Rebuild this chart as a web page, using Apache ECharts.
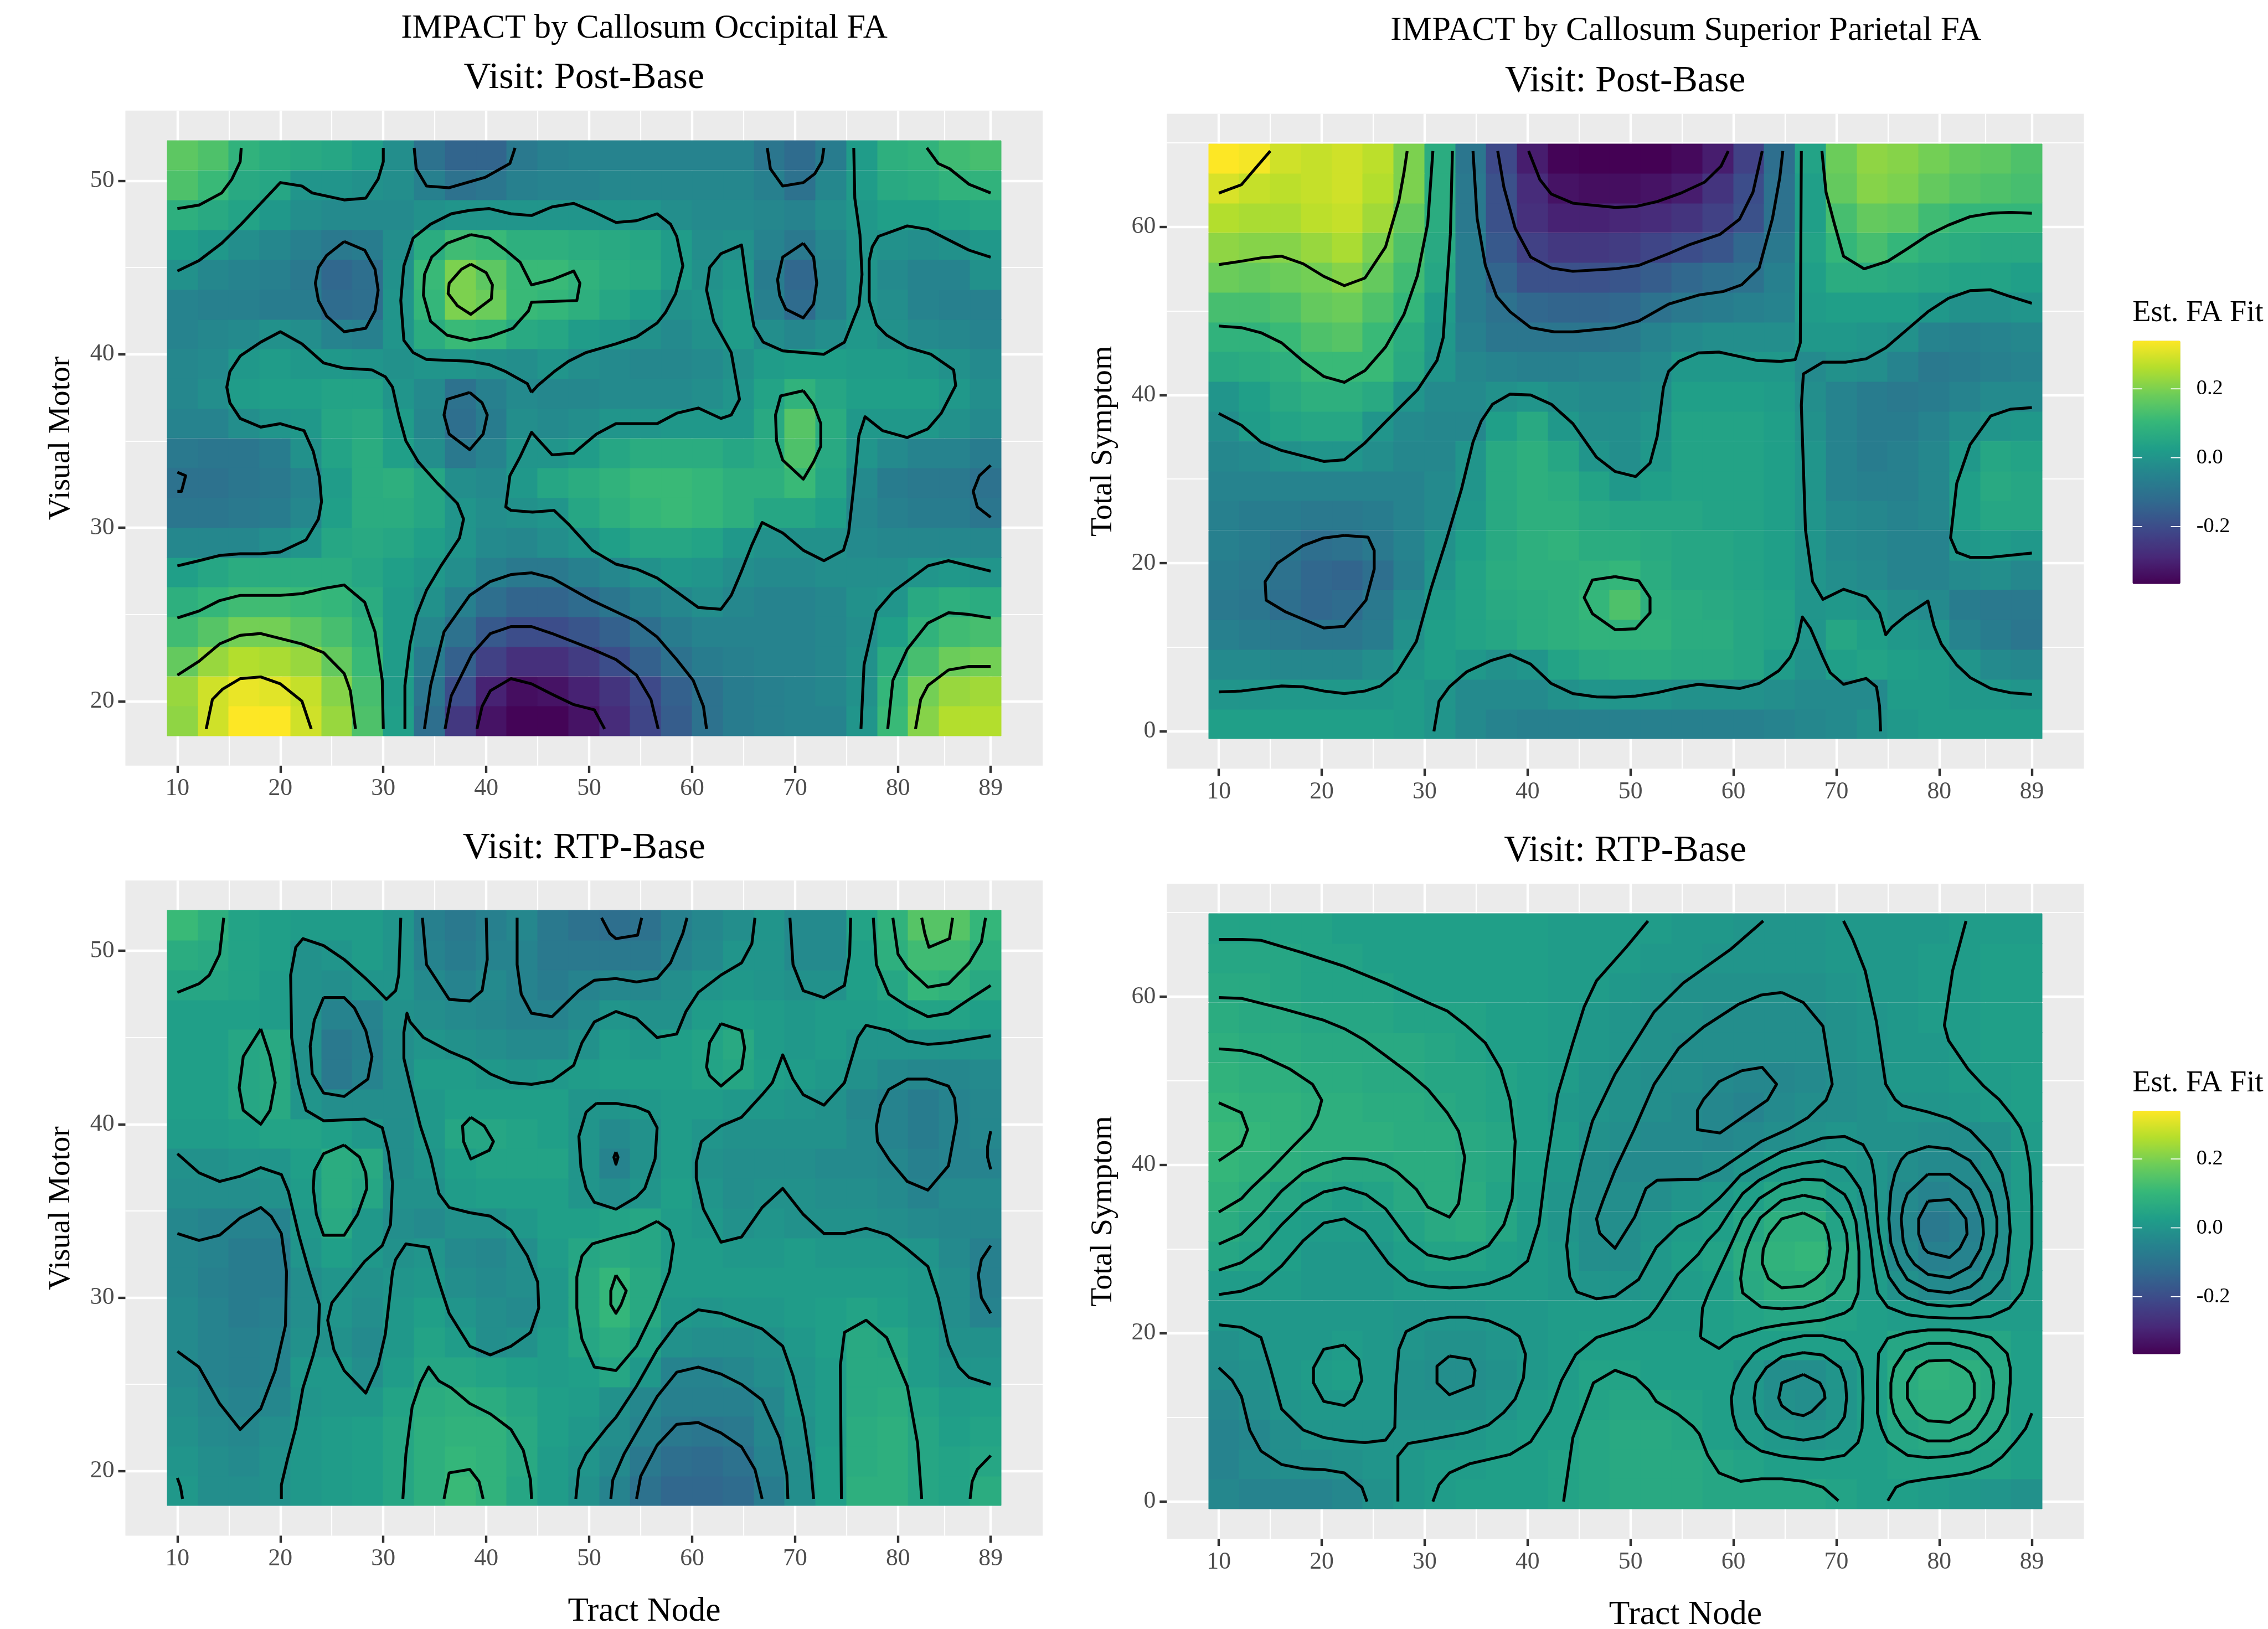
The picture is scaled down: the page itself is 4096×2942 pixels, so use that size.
<!DOCTYPE html>
<html><head><meta charset="utf-8"><style>html,body{margin:0;padding:0;background:#fff}#c{width:4096px;height:2942px}</style>
<script src="https://cdn.jsdelivr.net/npm/echarts@6/dist/echarts.min.js"></script></head><body><div id="c"></div>
<script>
const S=4096/4594;
const FONT='"Liberation Serif"';
const xNodes=[10.5,13.5,16.5,19.5,22.5,25.5,28.5,31.5,34.5,37.5,40.5,43.5,46.5,49.5,52.5,55.5,58.5,61.5,64.5,67.5,70.5,73.5,76.5,79.5,82.5,85.5,88.5];
const yNodesVisual=[18.86,20.57,22.29,24,25.72,27.44,29.15,30.87,32.59,34.3,36.02,37.74,39.45,41.17,42.88,44.6,46.32,48.03,49.75,51.47];
const yNodesSymptom=[0.885,4.43,7.97,11.5,15.05,18.6,22.1,25.7,29.2,32.7,36.3,39.8,43.4,46.9,50.4,54,57.5,61.1,64.6,68.1];
const xMajor=[10,20,30,40,50,60,70,80,89];
const xMinor=[15,25,35,45,55,65,75,84.5];
const yMajorVisual=[20,30,40,50],yMinorVisual=[25,35,45];
const yMajorSymptom=[0,20,40,60],yMinorSymptom=[10,30,50,70];
const legendTicks=[0.2,0,-0.2];
const legendLabels=['0.2','0.0','-0.2'];
const fitMin=-0.367,fitMax=0.34;
const viridis=['#440154','#482878','#3E4989','#31688E','#26828E','#1F9E89','#35B779','#6DCD59','#B4DE2C','#FDE725'];
// estimated fit in hundredths, rows bottom to top
const fitOccipitalPost=[
[22,29,34,34,29,23,14,3,-11,-25,-33,-36,-36,-33,-28,-22,-16,-10,-7,-6,-5,-5,0,11,21,26,26],
[23,29,32,31,28,21,13,2,-9,-20,-30,-34,-33,-30,-26,-21,-15,-10,-7,-6,-5,-4,-1,10,19,23,24],
[17,23,26,25,23,17,11,2,-7,-15,-23,-27,-27,-24,-20,-15,-10,-7,-6,-5,-5,-4,-1,7,13,18,19],
[12,15,19,19,16,13,9,2,-4,-10,-17,-20,-20,-18,-15,-11,-7,-5,-5,-5,-5,-4,-2,3,9,12,13],
[8,10,12,12,11,10,7,2,-1,-6,-11,-14,-14,-12,-9,-6,-4,-2,-4,-5,-5,-4,-1,0,6,8,7],
[3,5,7,7,7,7,5,3,1,-2,-6,-8,-8,-6,-4,-1,1,0,-2,-3,-3,-2,-2,-2,0,1,0],
[-4,-4,-4,-2,0,5,6,5,3,0,-3,-4,-2,0,3,5,5,4,1,-1,-1,-1,-3,-4,-4,-4,-4],
[-9,-9,-8,-7,-4,3,7,7,5,0,-2,-1,0,5,8,10,11,10,8,5,5,3,-4,-6,-7,-7,-9],
[-10,-10,-9,-8,-5,2,7,8,5,-2,-3,1,5,7,9,11,11,10,8,8,11,5,-3,-7,-8,-8,-10],
[-8,-9,-9,-7,-1,4,7,3,-2,-8,-5,0,0,2,5,7,7,7,5,7,14,6,0,-3,-5,-5,-7],
[-5,-5,-2,0,1,5,6,2,-4,-11,-7,-2,-3,-2,0,0,1,1,1,6,15,7,1,1,1,-1,-3],
[-4,-2,2,3,3,4,4,0,-3,-10,-6,-3,-4,-4,-3,-3,-3,-2,0,4,9,5,3,3,3,1,-2],
[-4,-3,1,2,1,1,0,-1,0,0,-1,-2,0,-2,-3,-4,-4,-3,-1,2,3,3,2,2,1,-1,-3],
[-5,-4,-3,-1,-2,-5,-6,0,7,11,10,6,5,2,1,-1,-3,-1,2,-2,-4,-2,1,-1,-3,-4,-5],
[-5,-6,-6,-7,-7,-12,-11,0,10,20,18,11,10,8,5,3,-1,0,2,-6,-12,-5,0,-2,-5,-6,-6],
[-1,-4,-5,-6,-8,-13,-11,-1,11,20,16,11,11,9,7,6,2,-1,1,-7,-13,-5,0,-3,-5,-5,-1],
[3,1,-2,-4,-6,-8,-7,-2,7,12,11,8,8,7,6,5,2,-2,-1,-5,-8,-4,0,-1,-2,-1,1],
[8,6,4,1,-2,-3,-3,-3,-1,0,0,0,0,0,0,0,-2,-3,-3,-4,-5,-2,1,3,3,4,5],
[14,11,6,5,0,0,-1,-2,-6,-10,-9,-6,-5,-5,-4,-4,-4,-4,-4,-6,-10,-4,2,6,7,9,9],
[16,14,9,7,6,5,3,-2,-10,-14,-14,-8,-6,-5,-5,-5,-5,-5,-5,-9,-12,-7,2,8,9,12,13]];
const fitParietalPost=[
[3,3,3,3,3,3,2,0,-3,-5,-6,-6,-6,-6,-6,-6,-6,-6,-5,-4,-3,-1,1,2,2,2,2],
[0,0,1,1,1,1,2,0,-3,-3,-3,-1,0,0,0,-1,-1,-1,-2,-3,-3,-3,2,2,1,1,0],
[-3,-3,-4,-4,-4,-2,1,3,1,-1,0,4,6,7,7,6,6,5,2,-1,3,4,3,2,0,-3,-4],
[-6,-7,-8,-9,-9,-7,-1,3,4,5,7,8,9,9,9,7,7,5,4,0,5,3,1,0,-5,-7,-9],
[-8,-9,-11,-13,-12,-8,-3,2,4,6,7,8,10,14,8,7,6,5,4,0,1,0,-2,-3,-7,-8,-8],
[-7,-8,-10,-13,-14,-11,-6,0,4,7,8,8,9,10,7,5,5,4,3,0,-2,-3,-5,-5,-3,-2,-4],
[-6,-7,-9,-11,-10,-8,-5,-1,3,6,8,9,7,7,6,5,5,4,3,0,-3,-4,-5,-5,1,2,1],
[-6,-7,-7,-8,-8,-7,-5,-3,1,6,8,8,6,5,5,5,4,4,3,0,-3,-4,-5,-4,3,5,5],
[-5,-5,-5,-5,-5,-5,-5,-3,0,6,8,7,4,1,3,4,4,4,3,0,-5,-6,-6,-4,3,6,5],
[-4,-3,-1,0,0,-2,-4,-4,0,6,8,5,0,-2,1,4,4,4,3,0,-5,-7,-6,-4,1,5,4],
[-2,2,4,5,5,0,-3,-4,-4,3,6,1,-2,-2,0,4,4,4,3,-1,-5,-7,-7,-5,-2,0,1],
[0,3,6,8,8,6,0,-3,-3,-1,0,-2,-3,-3,-2,3,3,3,2,-2,-5,-7,-8,-7,-5,-3,-3],
[6,7,8,11,11,11,6,0,-4,-5,-6,-6,-5,-5,-3,1,1,1,1,-3,-1,-2,-5,-8,-7,-6,-5],
[9,9,11,14,15,11,7,1,-6,-9,-9,-9,-9,-8,-5,-3,-2,-2,-2,1,1,0,-1,-5,-6,-5,-4],
[13,13,14,17,18,14,10,2,-7,-10,-13,-14,-14,-13,-10,-8,-7,-6,-5,2,3,3,3,1,-1,-1,0],
[18,17,18,19,21,17,12,5,-7,-14,-19,-19,-19,-18,-16,-13,-11,-10,-6,3,7,7,6,5,4,4,3],
[22,21,21,23,25,20,14,6,-7,-17,-23,-25,-25,-24,-22,-20,-18,-13,-8,4,10,13,10,8,7,6,6],
[26,25,25,27,28,24,17,7,-8,-19,-27,-30,-30,-29,-28,-26,-23,-19,-10,3,13,17,16,12,10,10,10],
[30,28,27,28,29,26,20,7,-8,-19,-28,-33,-34,-34,-33,-31,-26,-20,-10,3,17,21,20,17,15,14,13],
[34,33,29,28,29,27,20,7,-9,-21,-31,-36,-37,-37,-37,-35,-31,-23,-11,4,18,22,21,19,17,16,14]];
const fitOccipitalRtp=[
[1,-2,-2,-1,1,2,3,5,8,11,9,5,2,-1,-5,-10,-13,-13,-12,-7,-2,3,8,8,5,4,7],
[0,-2,-3,-1,1,2,3,5,8,10,9,6,2,0,-3,-8,-11,-12,-10,-5,-2,3,7,8,5,4,5],
[-1,-3,-4,-2,1,2,3,5,8,9,9,6,3,1,-2,-5,-8,-9,-8,-4,-1,2,7,8,5,3,4],
[-2,-4,-5,-4,0,1,1,4,7,8,7,5,3,2,-1,-4,-6,-6,-6,-4,0,2,6,7,4,2,3],
[-3,-5,-6,-5,1,1,-2,2,5,5,4,3,2,3,5,1,-5,-5,-4,-2,0,2,6,6,2,0,0],
[-3,-5,-6,-5,-1,-1,-3,1,4,2,-2,-1,2,5,7,4,-1,-2,-2,-1,1,3,6,5,2,-1,-1],
[-3,-5,-7,-6,-2,0,-2,1,3,0,-2,-3,1,6,10,6,1,0,1,1,2,3,4,3,1,-2,-5],
[-4,-6,-7,-7,-2,0,-1,0,1,-2,-3,-2,1,6,10,6,2,2,2,2,2,2,2,2,1,-2,-6],
[-4,-5,-7,-7,0,3,1,-1,0,-3,-4,-2,2,5,6,5,2,2,1,1,2,1,1,1,0,-3,-6],
[-4,-5,-5,-5,1,6,1,-2,-3,-1,-1,1,3,3,4,5,2,1,-1,0,-1,-1,-1,-2,-3,-4,-4],
[-2,-2,-2,-1,2,7,5,-1,-1,2,3,3,3,0,-2,0,3,0,-2,-1,-1,-2,-2,-3,-5,-3,-3],
[-1,-1,0,0,3,7,6,-2,0,3,4,4,4,0,-5,-1,2,-1,-2,-2,-2,-3,-3,-4,-6,-5,-5],
[2,2,3,4,4,3,1,-2,1,5,5,4,3,0,-3,-1,2,0,-1,-1,-1,-1,-3,-5,-7,-5,-4],
[3,3,5,6,0,-2,-2,-2,1,3,3,3,3,0,0,1,2,2,1,1,0,-1,-4,-5,-7,-5,-4],
[3,3,5,6,-1,-8,-5,-2,2,2,1,0,1,2,3,3,3,4,5,3,2,1,-1,-3,-4,-4,-3],
[3,3,5,6,-1,-8,-6,-2,0,-1,-2,-3,-3,-1,2,1,3,4,6,2,1,2,0,0,0,0,0],
[3,3,3,2,-1,-5,-5,-1,-2,-3,-4,-5,-5,-3,0,-1,-1,2,3,2,1,2,2,3,4,4,3],
[5,5,4,2,-1,-2,0,0,-3,-5,-3,-5,-7,-5,-4,-4,-2,0,1,0,-1,-1,3,5,10,9,6],
[7,6,4,3,-1,0,2,0,-5,-7,-5,-5,-8,-8,-8,-8,-5,-3,0,0,-3,-3,3,8,12,12,8],
[11,8,4,3,2,2,2,0,-6,-8,-6,-4,-8,-10,-11,-10,-6,-4,-2,0,-3,-3,4,9,15,15,10]];
const fitParietalRtp=[
[-4,-5,-5,-5,-4,-1,1,2,3,3,3,4,5,6,6,6,5,5,5,5,4,3,3,2,1,0,-1],
[-5,-3,-2,-2,-1,0,1,2,2,3,3,4,5,6,6,6,5,4,3,3,3,3,4,4,4,4,3],
[-5,-4,-2,0,0,0,0,0,1,2,3,3,5,6,6,5,3,2,1,0,1,3,5,6,6,5,3],
[-4,-2,0,1,1,1,-1,-1,-1,0,2,3,4,5,5,4,3,1,-1,-2,0,3,7,8,8,6,3],
[-2,-1,1,2,3,1,-1,-2,-2,-1,1,2,4,4,3,3,3,1,-2,-2,0,3,7,9,8,6,3],
[-1,0,1,1,2,1,0,-1,-1,0,1,2,3,3,3,3,3,3,3,3,3,3,5,5,5,5,3],
[1,1,1,1,1,1,0,0,0,1,1,2,2,2,2,2,3,4,5,5,4,3,2,2,2,2,2],
[2,2,2,1,1,1,2,2,2,2,2,1,0,0,1,2,3,6,8,8,6,2,-1,-3,-3,-1,2],
[5,4,3,1,1,1,3,4,4,3,2,1,-2,-2,1,3,4,7,9,10,6,2,-3,-6,-5,-2,2],
[7,5,3,2,2,2,4,6,7,5,2,0,-2,-2,0,2,3,5,8,8,4,1,-4,-8,-6,-2,2],
[9,7,5,4,3,4,6,7,7,4,2,0,-2,-2,-2,0,1,3,5,5,2,0,-3,-5,-4,-2,2],
[10,9,8,7,6,6,7,7,6,5,3,1,-2,-3,-3,-3,-2,0,2,2,1,0,-2,-3,-3,-1,2],
[11,10,9,8,8,8,7,7,6,5,3,2,-1,-2,-3,-3,-4,-3,-2,-1,0,-1,-1,-2,-2,-1,2],
[10,9,9,8,8,7,7,6,5,4,3,1,0,-1,-2,-3,-4,-5,-3,-2,-2,-1,0,0,1,2,3],
[9,8,8,7,7,6,6,5,5,4,3,2,0,-1,-2,-2,-3,-4,-4,-3,-2,-1,1,1,2,2,3],
[8,7,7,6,6,6,6,5,4,3,3,2,1,0,-1,-2,-2,-2,-2,-2,-1,0,1,1,2,3,3],
[7,6,6,5,5,5,4,4,4,3,3,2,1,0,-1,-1,-2,-2,-2,-2,-1,0,1,2,2,3,3],
[6,6,5,4,4,4,3,3,3,3,3,2,2,1,0,-1,-1,-1,-1,-1,0,1,1,2,2,3,3],
[5,5,5,4,4,3,3,3,3,3,3,2,2,2,1,1,0,0,0,0,1,1,1,2,2,3,3],
[4,4,4,4,3,3,3,3,3,3,3,2,2,2,2,1,1,0,0,0,1,1,1,1,2,2,2]];
// contour paths: flat x,y lists in data units
const contoursOccipitalPost=[
[10,48.4,12.1,48.6,14.3,49.3,15.3,50.1,16.1,51.1,16.2,51.9],
[10,44.8,12.1,45.4,14.3,46.4,16.2,47.5,18.1,48.7,20,49.9,22.1,49.7,23.1,49.3,26.2,48.9,28.3,49,29.5,50.1,30,51.1,30,51.9],
[33,51.9,33.2,50.7,34.2,49.7,36.4,49.6,39.9,50.2,42.3,51,42.8,51.9],
[67.3,51.9,67.6,50.7,68.8,49.7,70.8,49.9,71.9,50.4,72.6,51.1,72.8,51.9],
[75.7,51.9,75.8,49,76.3,46.9,76.5,44.6,76.2,42.8,74.8,40.7,72.8,40,68.8,40.2,66.9,40.7,66,41.6,65.4,43.7,64.8,46.3,62.8,45.8,61.7,45,61.4,43.7,62.1,41.9,63.8,40.1,64.6,37.4,63.8,36.5,62.8,36.3,60.6,36.9,58.5,36.6,56.6,36,52.6,36,50.7,35.4,48.5,34.3,46.4,34.2,44.4,35.5,43.3,34.1,42.3,33,41.9,31.2,42.4,31,44.5,30.9,46.6,31,48,30.2,50.3,28.7,52.6,27.9,54.7,27.6,56.6,27.1,58.5,26.3,60.6,25.4,62.8,25.3,63.8,26.1,64.8,27.5,65.8,29,66.8,30.3,68.8,29.7,70.8,28.7,72.8,28.1,74.7,28.7,75.2,29.7,75.8,32.9,76.2,35.3,76.8,36.4,78.5,35.6,80.9,35.2,82.9,35.7,84.2,36.6,85.6,38.2,85.4,39.1,83.2,40,80.9,40.4,78.9,41.1,77.9,41.7,77.2,43.1,77.2,45.4,77.5,46.2,78.1,46.8,80.9,47.4,82.9,47.2,84.9,46.6,86.9,46,89,45.6],
[44.4,37.8,44,38.3,41.9,39,40.3,39.4,38.4,39.6,34.2,39.7,32.9,40.1,32,40.8,31.7,43.1,32,45.1,32.9,46.7,34.6,47.5,36.6,48.1,38.4,48.3,40.3,48.4,42.4,48.1,44.4,48,46.4,48.5,48.5,48.7,50.5,48.2,52.6,47.6,54.6,47.7,56.6,48.1,57.9,47.5,58.5,46.8,59.1,45.1,58.4,43.5,57.4,42.4,56.6,41.8,54.6,41,52.6,40.6,49.7,40.1,48,39.6,46.6,39,45,38.2,44.4,37.8],
[38.5,46.9,40.3,46.7,41.9,46,43.3,45.3,44.4,44,46.4,44.3,48.5,44.8,49.1,44.1,48.8,43.1,44.4,43,44.1,42.5,42.6,41.5,40.3,41,38.4,40.8,36.2,41.1,34.6,41.9,33.9,43.4,34,44.6,34.7,45.6,36.2,46.4,38.5,46.9],
[38.5,45.2,40,44.7,40.6,44,40.5,43.2,38.5,42.3,37.2,42.8,36.3,43.5,36.4,44.1,37.6,44.9,38.5,45.2],
[26.2,46.5,28.2,46,29.2,44.9,29.5,43.7,29.2,42.5,28.3,41.5,26.2,41.3,24.5,42.2,23.7,43.1,23.4,44.1,23.7,45,24.5,45.7,26.2,46.5],
[70.8,46.4,71.8,45.6,72.1,44.1,71.8,42.9,70.8,42.1,69.1,42.6,68.5,43.4,68.3,44.3,68.8,45.6,70.8,46.4],
[10,27.8,12.1,28.1,14.1,28.4,16.1,28.5,18.1,28.5,20,28.6,22.5,29.3,23.7,30.5,24,31.5,23.8,32.9,23.2,34.4,22.3,35.6,20,36,18.1,35.8,16.1,36.3,15.1,37.2,14.8,38.1,15.1,39,16.1,39.9,18.1,40.7,20,41.3,22.1,40.6,24.2,39.5,26.2,39.2,28.9,39.1,30.2,38.7,30.9,38.1,31.5,36.5,32.2,35,33.4,33.8,35.2,32.6,37.2,31.4,37.8,30.5,37.4,29.4,35.6,27.8,34.2,26.4,33.2,24.9,32.6,23.3,32.1,20.9,32.1,18.4],
[10,33.2,10.8,33,10.4,32.1,10,32.1],
[38.4,37.8,39.6,37.2,40.1,36.5,39.7,35.4,38.4,34.5,36.4,35.4,35.9,36.5,36.2,37.4,38.4,37.8],
[70.8,37.9,71.8,37.1,72.5,36,72.5,34.7,71.8,33.8,70.8,32.8,68.8,33.9,68.2,35,68.1,36.5,68.6,37.6,70.8,37.9],
[89,33.6,87.9,33,87.3,32.1,87.7,31.2,89,30.6],
[82.8,51.9,83.9,51,85,50.7,86.9,49.8,89,49.3],
[10,24.8,12.1,25.2,14.1,25.8,16.1,26.1,20,26.1,22.1,26.2,24.2,26.5,26.2,26.7,28.2,25.7,29.2,24,29.9,21.2,30,18.4],
[10,21.5,12.1,22.3,14.1,23.3,16.1,23.8,18.1,23.9,22.1,23.3,24.2,22.8,26.2,21.6,26.8,20.6,27.3,18.4],
[12.8,18.4,13.4,20.1,14.4,20.7,16.1,21.3,18.1,21.4,20,21,22.1,20,23,18.4],
[34,18.4,34.6,20.9,35.9,24,38.4,26.1,40.4,26.9,42.4,27.3,44.4,27.4,46.4,27.1,50.3,25.8,54.6,24.6,56.6,23.7,58.5,22.4,60.1,21.2,61.1,19.7,61.4,18.4],
[36,18.4,36.6,20.3,38.6,22.7,40.4,23.9,42.4,24.3,44.4,24.3,46.4,23.9,50.3,23,52.6,22.4,54.6,21.5,56,20.1,56.7,18.4],
[39.1,18.4,39.6,19.7,40.4,20.6,42.4,21.3,44.4,21,46.4,20.4,48.5,19.8,50.5,19.5,51.5,18.4],
[76.4,18.4,76.7,22.1,77.9,25.2,79.5,26.3,82.9,27.8,84.9,28.1,89,27.5],
[79,18.4,79.5,21.2,80.9,23,82.9,24.5,84.9,25.1,86.9,25,89,24.8],
[81.7,18.4,82.2,20.1,82.9,20.9,84.9,21.8,86.9,22,89,22]];
const contoursParietalPost=[
[10,64,12.2,65,13.1,66.3,15,69],
[10,55.5,12.2,55.9,14.1,56.3,16.1,56.5,18.2,55.6,20.2,54.1,22.2,53,24.2,53.9,26.2,57.6,27.5,63.1,28,66.5,28.3,69],
[10,48.2,12.2,48,14.1,47.4,16.1,46.2,18.2,44,20.2,42.2,22.2,41.5,24.2,42.9,26.2,45.7,28,49.6,29.3,54.2,30.3,60.4,30.8,69],
[10,37.8,12.2,36.4,14.1,34.4,16.1,33.4,20.2,32.1,22.2,32.3,24.2,34.3,26.2,36.8,29.3,40.6,31.2,44.1,31.8,46.8,32.5,59.1,32.7,69],
[34.7,69,35.1,61,35.9,55.4,37,51.7,38.3,49.9,40.3,48,42.6,47.5,44.4,47.5,48.5,48,50.8,48.8,53.7,50.8,56.7,51.9,59,52.3,60.8,53.1,62.5,55.1,63.8,61,64.5,65.8,64.8,69],
[37.1,69,37.7,64.7,38.8,59.8,40.3,56.4,42.3,55.1,44.4,54.7,48.5,55,50.8,55.4,53.7,56.8,55.8,57.9,58.7,59.1,60.6,60.9,61.9,64.1,62.8,69],
[40.1,69,41.2,65.6,42.3,63.9,44.4,62.8,48.5,62.3,50.5,62.4,52.6,63,54.9,64,57.2,65.3,58.8,67.2,59.5,69],
[66.6,69,66.5,46.2,66,44.2,64.6,44,62.3,44.1,60.5,44.6,58.6,45.1,56.6,45,54.7,44,53.7,42.8,53.2,40.9,52.6,35.1,51.9,31.9,50.5,30.3,48.5,30.9,46.7,32.6,44.4,36.6,42.3,38.9,40.3,40,38.3,40.1,36.6,38.9,35.5,36.9,34.7,34.4,33.6,28.9,32.1,22.7,30.6,16.9,29.2,10.7,27.3,7,25.7,5.4,24.2,4.8,22.2,4.5,20.2,4.8,18.2,5.3,16.1,5.4,14.1,5.1,12.2,4.8,10,4.7],
[68.6,69,69,64.1,69.8,60.4,70.7,56.5,72.7,55,75,55.9,76.8,57.3,78.9,59,80.9,60.2,83,61.2,85,61.6,86.9,61.7,89,61.6],
[89,50.9,86.9,51.7,85,52.5,83,52.4,80.9,51.5,78.9,49.9,76.8,47.7,74.8,45.6,72.9,44.3,70.9,43.9,68.7,43.9,66.8,42.5,66.6,38.8,66.8,31.4,67,24,67.7,17.8,68.7,15.7,70.7,16.9,72.9,16,74.2,14.1,74.8,11.5,75.4,12.4,76.8,13.8,78.9,15.5,79.5,12.5,80.2,10.4,81.7,7.9,83,6.4,85,5.1,86.9,4.6,89,4.4],
[89,38.5,86.9,38.3,85,37.5,83,34.1,81.7,29.5,81.1,23,81.7,21.3,83,20.7,85,20.7,89,21.2],
[22.2,23.3,24.5,23.1,25.1,21.5,25.1,19.3,24.3,15.6,22.2,12.5,20.2,12.3,16.5,14.2,14.6,15.6,14.5,17.8,15.7,20,18.2,22.1,20.2,23,22.2,23.3],
[48.5,18.4,50.8,17.9,51.9,15.9,51.9,14.1,50.5,12.2,48.5,12.1,46.3,14,45.5,15.9,46.3,18,48.5,18.4],
[30.9,0,31.4,3.6,32.4,5.3,34.1,7.1,36.4,8.4,38.3,9.1,40.3,8,42.3,5.7,44.4,4.5,46.7,4.1,48.5,4.07,50.5,4.2,52.6,4.6,54.7,5.2,56.6,5.6,60.6,5.1,62.5,5.7,64.4,7.2,65.5,8.8,66.2,10.7,66.7,13.6,67.5,12.2,68.7,8.8,69.4,7,70.7,5.6,72.9,6.3,73.9,5.3,74.2,3,74.3,0]];
const contoursOccipitalRtp=[
[10,47.6,12.1,48.1,13.1,48.6,14.1,49.8,14.5,51.9],
[31.7,51.9,31.5,48.6,31.2,47.7,30.3,47.2,29.5,47.7,28.3,48.4,26.2,49.5,24.2,50.3,22.2,50.7,21.5,50.2,21,48.6,21.1,45,21.8,42.3,22.5,40.8,24.2,40.2,28.2,40.3,29.9,39.8,30.5,38.4,30.9,36.6,30.7,34.2,29.9,33,28.2,32.1,26.2,30.6,25,29.7,24.6,28.7,25.2,27,26.2,25.8,28.3,24.5,29.5,26.1,30.2,27.9,30.9,31.5,31.2,32.2,32.2,33.1,34.4,32.9,35.4,30.9,36.4,29.1,38.4,27.2,40.4,26.7,42.4,27.2,44.3,28,45.1,29.4,45,30.9,44,32.4,42.4,33.9,40.4,34.7,38.4,34.9,36.4,35.2,35.4,36,34.6,38.1,33.6,39.9,32.6,42.3,32,43.8,32,45.3,32.3,46.4,32.6,45.9,33.9,45,36.4,44.2,38.4,43.7,40.4,42.9,42.4,42.4,44.4,42.3,46.4,42.5,48.5,43.4,49.3,44.7,50.5,45.9,52.6,46.5,54.6,46.1,56.6,45,58.5,45.2,59.4,46.5,60.6,47.6,62.8,48.6,64.8,49.3,65.8,50.4,66.1,51.9],
[33.8,51.9,34.2,49.2,36.4,47.2,38.4,47.1,39.6,47.7,40.1,49.5,40,51.9],
[43,51.9,43,49.2,43.4,47.5,44.4,46.4,46.4,46.2,49,47.7,50.5,48.3,52.6,48.4,54.6,48.2,56.6,48.4,57.9,49.3,59.1,51,59.5,51.9],
[51.2,51.9,52,51,52.6,50.7,54.7,50.9,55.1,51.9],
[69.5,51.9,69.8,49.2,70.8,47.7,72.8,47.3,74.8,48,75.3,49.8,75.4,51.9],
[77.6,51.9,77.9,49.2,79.1,47.5,80.9,46.8,82.9,46.2,84.9,46.4,86.9,47.2,89,48],
[79.5,51.9,80,49.8,80.9,49,82.9,47.9,84.9,48.1,86.9,49.3,88.1,50.5,88.5,51.9],
[82.3,51.9,82.6,51,83,50.2,85,50.7,85.3,51.9],
[24.2,47.3,26.2,47.3,27.2,46.7,28.3,45.4,28.9,43.9,28.5,42.6,26.2,41.6,24.2,41.8,23.1,42.9,22.9,44.5,23.3,46,24.2,47.3],
[18.1,45.5,19,43.9,19.5,42.4,19,40.8,18.1,40,16.4,40.8,16,42.1,16.4,43.9,18.1,45.5],
[38.5,40.4,39.8,39.9,40.7,39,40.3,38.5,38.5,38,37.8,39,37.7,39.9,38.5,40.4],
[50.7,41.2,52.6,41.2,54.6,41,55.8,40.7,56.6,39.8,56.4,38,55.4,36.3,54.6,35.8,52.6,35.1,50.5,35.5,49.7,36.3,49.2,37.5,49,39.3,49.7,40.7,50.7,41.2],
[52.6,38.4,52.8,38.1,52.6,37.7,52.4,38.1,52.6,38.4],
[62.8,45.8,64.8,45.4,65.1,44.4,64.8,43.2,62.8,42.2,61.7,42.8,61.4,43.3,61.7,44.7,62.8,45.8],
[82.9,42.6,84.9,42.2,85.5,41.5,85.7,40.2,84.9,37.6,82.9,36.2,80.9,36.7,79.2,37.9,78,39,77.9,39.9,78.3,41.1,79.1,42,80.9,42.6,82.9,42.6],
[89,39.6,88.7,38.7,88.7,38.1,89,37.4],
[10,38.3,12.1,37.2,14.1,36.7,16.1,37,18.1,37.5,20.1,37.1,20.8,36.1,21.8,33.6,22.8,31.5,23.8,29.6,23.7,27.9,23.2,26.7,22.2,24.8,21.5,22.5,20.7,20.7,20.1,19.2,20.1,18.4],
[26.2,38.8,27.7,38.1,28.3,37.2,28.4,36.3,27.5,34.8,26.2,33.6,24.2,33.6,23.5,34.8,23.2,36.3,23.3,37.3,24.2,38.3,26.2,38.8],
[10,33.7,12.1,33.3,14.1,33.6,16.1,34.6,18.1,35.2,19.1,34.7,20.1,33.7,20.6,31.5,20.5,28.4,19.5,25.8,18.1,23.6,16.1,22.4,14.1,23.9,12.1,26,10,26.9],
[10,19.6,10.3,19.1,10.5,18.4],
[89,45.1,86.9,44.9,84.9,44.7,82.9,44.6,80.9,44.8,79.1,45.4,76.9,45.7,76.1,45,74.8,42.4,72.8,41.1,70.8,41.7,69.8,42.6,68.8,44,67.8,42.4,66.8,41.7,64.8,40.4,62.8,39.9,60.9,39,60.4,37.8,60.4,36.9,61.1,35.1,62.8,33.2,64.8,33.5,66.8,35.2,68.8,36.3,70.8,34.8,72.8,33.7,74.8,33.7,76.9,34,79.1,33.6,80.9,32.8,82.9,31.8,83.9,30,84.9,27.3,85.9,26,86.9,25.4,89,25],
[56.6,34.4,57.8,33.9,58.2,33.1,57.8,31.5,56.4,29.4,54.6,27.2,52.6,25.8,50.5,26,49.3,27.6,48.8,29.4,48.8,31.2,49.3,32.4,50.3,33.1,52.6,33.5,54.6,33.8,56.6,34.4],
[52.6,31.3,53.6,30.4,53.1,29.6,52.6,29.1,52.1,29.6,52.1,30.4,52.6,31.3],
[89,33,88.1,32.2,87.8,31.3,88.1,30,89,29.1],
[31.9,18.4,32.2,21,32.8,23.7,33.6,25.1,34.4,26,35.4,25.2,36.6,24.8,38.4,23.9,40.4,23.3,42.4,22.4,43.6,21.2,44.3,19.5,44.4,18.4],
[35.9,18.4,36.4,19.9,38.4,20.1,39.3,19.4,39.7,18.4],
[48.7,18.4,49,20.1,49.7,21,51.7,22.5,52.6,23.1,54.6,24.9,56.6,27,58.5,28.5,60.6,29.3,62.8,29.1,66.8,28.2,68.8,27.2,69.8,25.5,70.8,23.1,71.5,20.4,71.8,18.4],
[52.1,18.4,52.3,19.5,53.4,21,56.6,24.3,58.5,25.7,60.6,26,62.8,25.6,64.8,25,66.8,24.1,68.5,21.9,69.2,19.8,69.3,18.4],
[54.6,18.4,55,19.7,56.6,21.5,58.5,22.7,60.6,22.8,62.8,22.2,64.8,21.4,66.1,20.1,66.8,18.4],
[74.5,18.4,74.4,26.1,74.8,28,76.9,28.7,78.9,27.7,80.9,24.9,81.9,21.6,82.3,18.4],
[87,18.4,87.2,19.4,87.7,20.1,89,20.9]];
const contoursParietalRtp=[
[10,66.8,12.2,66.8,14.1,66.7,18.2,65.2,22.2,63.6,26.2,61.6,30.3,59.3,32.2,58.3,34.1,56.5,35.9,54.5,37.4,51.4,38.3,47.7,38.8,42.8,38.5,36,37.7,32.9,36.2,30.4,34.1,29.2,32.4,28.8,30.3,29.3,28.5,31,26.2,34.8,24.3,36.5,22.2,37.3,20.2,36.8,18.2,35.4,16.1,32.9,14.1,30.1,12.2,28.4,10,27.5],
[10,59.9,12.2,59.8,16.1,58.6,20.2,57.2,22.2,56.2,24.2,54.8,26.2,53,28.5,50.9,30.3,49,32.2,46.2,33.3,44,33.9,40.9,33.3,35.4,32.4,33.8,30.3,35,29.2,37.1,27.3,39.2,26.2,40,24.2,40.7,22.2,40.8,20.2,40.2,18.2,39.1,16.1,36.9,14.1,34.1,12.2,31.8,10,30.6],
[10,53.8,12.2,53.6,14.1,53,16.9,51.4,19.1,49.6,20,47.7,19.6,45.9,18.9,44.3,17.2,42.2,15,39.4,13.1,37.2,12.2,36,10,34.4],
[10,47.4,12.2,46.2,12.8,44.2,12.2,42.3,10,40.5],
[10,24.6,12.2,25,14.1,25.9,16.1,28,18.2,31,20.2,33.1,22.2,33.6,24.2,32.1,26.5,28.3,28.4,26.3,30.3,25.6,32.4,25.4,34.1,25.5,36.2,25.9,38.3,26.9,40,28.6,41.1,32.9,41.8,39.7,42.9,48.3,44.4,54.5,45.5,58.8,46.7,61.9,49.6,65.9,51.7,69],
[62.9,69,59.7,65.6,55.1,61.6,52.3,58.2,48.5,50.8,46.3,45.2,45.2,40.3,44.2,34.8,43.8,30.4,44.1,26.7,44.8,24.9,46.7,24.1,48.5,24.4,50.8,26.4,52.5,30.2,54.6,32.7,56.6,33.9,58.6,36,59.6,37.3,60.7,38.8,62.6,40.2,64.7,41.6,66.8,42.4,68.7,43.2,70.8,43.4,72.6,42.4,73.4,40.6,73.7,38.7,73.9,35.1,74.1,32.1,74.5,29.4,75.1,26.7,76.2,24.8,76.9,24.2,78.9,23.4,81,23.2,83,23.4,85,24.8,86.1,26.4,86.6,28.3,86.9,32.1,86.7,35.7,86.1,39,85,41.5,83,44.1,81,45.5,78.9,46.3,76.4,47.05,75.7,47.8,74.8,49.6,73.9,57,72.8,63.1,71.6,66.8,70.7,69],
[30.8,0,31.4,2,32.4,3.4,34.4,4.5,38.3,5.6,40.3,7.1,42.2,10.7,43.3,14.4,44.7,17.5,46.7,19.5,50.4,20.9,51.8,21.9,52.5,23,53.5,24.9,54.6,27,56.6,29.4,57.5,31,58.6,32.4,59.6,34.3,60.9,36.6,62.5,38.2,64.7,39.6,66.8,40.2,68.7,40.5,70.8,39.7,71.4,38.8,72.3,37.2,72.8,35.1,73.3,30.9,73.6,27.6,74,24.8,75,23.1,76.9,22.2,78.9,21.9,81,21.8,83,21.8,85,22,86.8,23,88,24.8,88.6,27,89,30.6,89,35.1,88.8,39.9,88.4,42.6,87.9,44.4,87,46,85.8,47.8,84.3,49.4,82.8,51.4,80.9,54.8,80.5,56.6,81.3,63.1,82.6,69],
[56.8,19.5,57,23,57.6,24.9,58.6,27.5,59.6,30.1,60.9,33.6,62,35.2,62.5,36,64.7,37.7,66.8,38.3,68.7,38.2,70.8,36.5,71.3,35.4,71.9,33.3,72.2,29.7,72.2,26.7,72.1,24.8,71.5,23,70.8,22.4,68.7,21.6,64.7,21,62.8,20.6,60,19.5,58.6,18.2,56.8,19.5],
[66.8,36.4,68.7,35.9,69.4,35.2,70.5,33.6,71,31.8,71.1,30,70.7,26.5,69.8,24.8,68.7,23.9,66.8,23.1,64.7,22.9,62.7,23.1,60.9,24.8,60.7,26.5,60.9,28.2,61.2,30,61.8,31.8,62.6,33.7,64.7,35.8,66.8,36.4],
[66.8,34.3,68,33.6,68.8,33,69.2,31.8,69.4,30.1,69.2,28.3,68.7,27.3,68,26.5,66.8,25.6,64.7,25.4,63.4,26.5,62.8,28.3,62.9,30,63.5,31.8,64.7,33.6,66.8,34.3],
[78.9,42.2,81,41.9,83,40.5,84,38.8,85,36.7,85.6,33.6,85.6,31.8,85.2,29.4,84.1,26.6,83,25.5,81,24.8,78.9,25.1,76.9,26.4,76,28.2,75.3,30.7,75.1,33.6,75.3,36.9,75.7,39,76.3,40.6,76.9,41.4,78.9,42.2],
[78.9,38.9,81,38.9,83,37.1,83.7,35.4,84.2,33.6,84.3,31.8,84,30,83,27.9,81,26.6,78.9,27,77.6,28.2,76.9,29.4,76.5,30.9,76.3,33.6,76.5,35.2,76.9,36.6,78.9,38.9],
[78.9,35.7,81,35.9,81.6,35.2,82.6,33.6,82.7,31.8,82,30.1,81,29,78.9,29.6,78.5,30.1,78,31.8,78,33.6,78.9,35.7],
[66.8,19.7,68.7,19.7,70.8,19.1,71.9,17.7,72.5,15.8,72.6,12.3,72.5,8.7,72.1,7,70.8,5.5,68.7,5,66.8,5.1,64.7,5.4,62.7,6,61.3,7.1,60.3,8.7,59.9,10.5,59.8,12.3,60.1,14.1,60.9,15.9,62,17.6,62.7,18.2,64.7,19.2,66.8,19.7],
[66.8,17.7,68.7,17.4,70.4,15.9,70.9,14.1,71,12.3,70.8,10.1,70.1,8.8,68.7,7.7,66.8,7.3,64.7,7.7,63.2,8.7,62.2,10.5,62,12.3,62.2,14.1,63.2,15.9,64.7,17.2,66.8,17.7],
[66.8,15.1,68.4,14.1,68.8,13.1,68.9,12.3,67.6,10.7,66.8,10.2,65.7,10.5,64.7,11.4,64.4,12.3,64.7,14.1,66.8,15.1],
[76.9,20.1,78.9,20.4,81,20.4,83,20.1,85,19.5,86.6,17.6,86.9,15.9,86.9,14.1,86.6,10.5,85.7,8.45,84.6,7.1,83,5.9,81,5.4,78.9,5.2,76.9,5.5,75,7.1,74.4,8.7,74,10.5,74,14.1,74.1,17.6,75,19.4,76.9,20.1],
[78.9,18.8,81,18.8,83,18.2,83.7,17.7,85,15.9,85.3,14.1,85.2,12.3,84.6,10.5,83.6,8.7,83,8.1,81,7.2,78.9,7.2,76.9,8.2,76.3,9,75.6,10.5,75.3,12.3,75.3,14.1,75.6,15.9,76.7,17.9,78.9,18.8],
[78.9,16.7,81,16.8,82.4,15.9,83,15.3,83.4,14.1,83.4,12.3,82.9,11,82.4,10.4,81,9.4,78.9,9.6,77.8,10.5,76.9,12.3,76.9,14.1,77.8,15.9,78.9,16.7],
[43.5,0,44.4,7.6,46.4,14.1,48.5,15.6,50.5,14.7,51.8,13.2,52.5,11.9,54.6,10.4,56.1,8.9,56.7,8,57.5,5.5,58.6,3.4,60.7,2.4,62.7,2.7,64.7,2.7,66.8,2.4,68.7,1.7,70.2,0.1],
[75,0.1,75.8,1.7,76.9,2.3,78.9,2.7,81,3,83,3.4,85,4.3,86.1,5.3,87.4,7.1,88.4,8.7,89,10.5],
[10,21,12.2,20.7,14.1,19.5,15,15.9,16.1,11,18.2,8.5,20.2,7.6,22.2,7.2,24.2,7,26.2,7.3,27.1,8.8,27.2,13.8,27.5,18.1,28.2,20.2,30.3,21.5,32.4,21.9,34.1,21.9,36.2,21.5,38.3,20.4,39.2,19.6,39.8,17.5,39.6,14.7,38.8,12.2,37.7,10.6,36.2,9.1,34.1,8.2,32.4,7.8,30.3,7.3,28.4,6.9,27.4,5.4,27.4,0],
[10,15.9,11.3,14.4,12.2,12.5,13,8.5,14.1,6,16.1,4.4,18.2,3.9,20.2,3.8,22.2,3.4,23.9,1.7,24.4,0],
[22.2,18.6,23.6,16.9,23.9,14.4,23.1,12.2,22.2,11.4,20.2,11.9,19.2,14.1,19.2,15.9,20.2,18.1,22.2,18.6],
[32.4,17.3,34.4,16.9,34.9,15.6,34.7,13.8,32.4,12.7,31.2,14.1,31.2,16.1,32.4,17.3],
[64.7,60.5,66.8,59.3,68.7,56.5,69.6,49.6,69,47.7,67.2,45.6,65.4,44.3,62.7,42.8,58.6,39.4,56.6,38.3,52.6,38.2,51.5,37.2,50.4,33.8,48.5,30.1,47,31.9,46.7,33.6,47.4,36,48.5,39.4,50.4,44.3,52.3,49.6,54.7,53.9,57.1,56.4,60.5,59.1,62.7,60.2,64.7,60.5],
[60.8,51.2,62.8,51.6,64.2,49.6,63.3,47.7,60.8,45.6,58.7,43.8,56.5,44.2,56.5,46.5,57.1,47.8,58.6,49.9,60.8,51.2]];

const panels=[
 {fit:fitOccipitalPost,lines:contoursOccipitalPost,ys:yNodesVisual,cellH:1.7165,box:[254,224,2112,1551],yr:[16.28,54.05],maj:yMajorVisual,min:yMinorVisual,name:'Visual Motor',gap:99},
 {fit:fitParietalPost,lines:contoursParietalPost,ys:yNodesSymptom,cellH:3.5385,box:[2363.5,230.5,4221,1557],yr:[-4.43,73.43],maj:yMajorSymptom,min:yMinorSymptom,name:'Total Symptom',gap:97.5},
 {fit:fitOccipitalRtp,lines:contoursOccipitalRtp,ys:yNodesVisual,cellH:1.7165,box:[254,1783.6,2112,3110.6],yr:[16.28,54.05],maj:yMajorVisual,min:yMinorVisual,name:'Visual Motor',gap:99},
 {fit:fitParietalRtp,lines:contoursParietalRtp,ys:yNodesSymptom,cellH:3.5385,box:[2363.5,1790,4221,3117],yr:[-4.43,73.43],maj:yMajorSymptom,min:yMinorSymptom,name:'Total Symptom',gap:97.5}];
const cellW=3;
const grid=[],xAxis=[],yAxis=[],series=[];
panels.forEach((p,i)=>{
 const [l,t,r,b]=p.box;
 grid.push({show:true,backgroundColor:'#EBEBEB',borderWidth:0,left:l*S,top:t*S,width:(r-l)*S,height:(b-t)*S});
 const tickFont={color:'#4D4D4D',fontFamily:FONT,fontSize:49*S};
 xAxis.push({gridIndex:i,type:'value',min:4.95,max:94.05,position:'bottom',axisLine:{show:false,onZero:false},
  axisTick:{show:true,length:13,lineStyle:{color:'#333',width:4.4},customValues:xMajor},
  axisLabel:{...tickFont,margin:20,customValues:xMajor},splitLine:{show:true,lineStyle:{color:'#fff',width:4.4}}});
 xAxis.push({gridIndex:i,type:'value',min:4.95,max:94.05,position:'bottom',axisLine:{show:false,onZero:false},
  axisTick:{show:false,customValues:xMinor},axisLabel:{show:false},splitLine:{show:true,lineStyle:{color:'#fff',width:2.2}}});
 yAxis.push({gridIndex:i,type:'value',min:p.yr[0],max:p.yr[1],position:'left',axisLine:{show:false,onZero:false},
  name:p.name,nameLocation:'middle',nameGap:p.gap*S,nameRotate:90,nameMoveOverlap:false,nameTextStyle:{color:'#000',fontFamily:FONT,fontSize:62.5*S},
  axisTick:{show:true,length:13,lineStyle:{color:'#333',width:4.4},customValues:p.maj},
  axisLabel:{...tickFont,margin:20,customValues:p.maj},splitLine:{show:true,lineStyle:{color:'#fff',width:4.4}}});
 yAxis.push({gridIndex:i,type:'value',min:p.yr[0],max:p.yr[1],position:'left',axisLine:{show:false,onZero:false},
  axisTick:{show:false,customValues:p.min},axisLabel:{show:false},splitLine:{show:true,lineStyle:{color:'#fff',width:2.2}}});
});
panels.forEach((p,i)=>{
 const data=[];
 p.fit.forEach((row,ri)=>row.forEach((v,ci)=>data.push([xNodes[ci],p.ys[ri],v/100])));
 series.push({type:'custom',xAxisIndex:i*2,yAxisIndex:i*2,z:1,silent:true,animation:false,clip:false,
  encode:{x:0,y:1},data,
  renderItem(params,api){
   const x=api.value(0),y=api.value(1);
   const a=api.coord([x-cellW/2,y+p.cellH/2]),c=api.coord([x+cellW/2,y-p.cellH/2]);
   const fill=api.visual('color');
   return {type:'rect',shape:{x:Math.round(a[0]),y:Math.round(a[1]),width:Math.round(c[0])-Math.round(a[0]),height:Math.round(c[1])-Math.round(a[1])},style:{fill,stroke:fill,lineWidth:1}};
  }});
});
panels.forEach((p,i)=>{
 p.lines.forEach(flat=>{
  const data=[];
  for(let k=0;k+1<flat.length;k+=2)data.push([flat[k],flat[k+1]]);
  series.push({type:'line',xAxisIndex:i*2,yAxisIndex:i*2,z:3,data,showSymbol:false,symbol:'none',silent:true,animation:false,clip:false,
   lineStyle:{color:'#000',width:5.2,join:'round'}});
 });
});
function txt(t,x,y,size,align,extra){return Object.assign({type:'text',z:100,silent:true,x:x*S,y:y*S,style:{text:t,fontFamily:FONT,fontSize:size*S,fill:'#000',textAlign:align||'center',textVerticalAlign:'middle'}},extra||{});}
const graphics=[
 txt('IMPACT by Callosum Occipital FA',1305,58,68.5),
 txt('Visit: Post-Base',1183,158,76),
 txt('IMPACT by Callosum Superior Parietal FA',3415,63,68.5),
 txt('Visit: Post-Base',3292,165,76),
 txt('Visit: RTP-Base',1183,1718,76),
 txt('Visit: RTP-Base',3292,1724,76),
 txt('Tract Node',1305,3265,69),
 txt('Tract Node',3414,3271,69)];
const barX=4319.6,barW=97,barH=493;
const barTops=[690,2250];
const titleYs=[635,2195];
barTops.forEach((top,n)=>{
 graphics.push(txt('Est. FA Fit',barX,titleYs[n],61,'left'));
 legendTicks.forEach((v,k)=>{
  const y=top+(fitMax-v)/(fitMax-fitMin)*barH;
  graphics.push(txt(legendLabels[k],4449,y,43,'left'));
  [[barX,barX+barW/5],[barX+barW*4/5,barX+barW]].forEach(([a,e])=>graphics.push({type:'line',z:100,silent:true,shape:{x1:a*S,y1:y*S,x2:e*S,y2:y*S},style:{stroke:'#fff',lineWidth:1.8}}));
 });
});
const vm=(idx,top)=>({type:'continuous',min:fitMin,max:fitMax,dimension:2,seriesIndex:idx,left:barX*S,top:top*S,itemWidth:barW*S,itemHeight:barH*S,padding:0,calculable:false,hoverLink:false,realtime:false,text:null,inRange:{color:viridis},textStyle:{fontSize:0}});
const chart=echarts.init(document.getElementById('c'),null,{renderer:'canvas'});
chart.setOption({animation:false,backgroundColor:'#fff',grid,xAxis,yAxis,series,graphic:{elements:graphics},visualMap:[vm([0,1],barTops[0]),vm([2,3],barTops[1])]});
</script></body></html>
